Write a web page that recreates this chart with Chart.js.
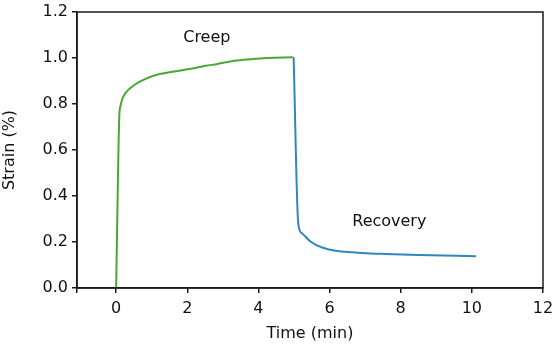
<!DOCTYPE html>
<html>
<head>
<meta charset="utf-8">
<script src="https://cdn.jsdelivr.net/npm/chart.js@4/dist/chart.umd.min.js"></script>
<style>
  html, body { margin: 0; padding: 0; background: #fff; }
  #wrap { width: 553px; height: 346px; }
</style>
</head>
<body>
<div id="wrap"><canvas id="chart"></canvas></div>
<script>
'use strict';

// creep phase (time in min, strain in %)
const creepTime = [0, 0.09, 0.12, 0.19, 0.42, 0.75, 1.12, 1.59, 2.06, 2.52, 2.85, 3.32, 3.79, 4.25, 4.97]
const creepStrain = [0, 0.75, 0.79, 0.829, 0.872, 0.904, 0.926, 0.94, 0.952, 0.966, 0.974, 0.988, 0.995, 1.0, 1.003]

// recovery phase
const recTime = [4.99, 5.12, 5.23, 5.47, 5.79, 6.17, 6.64, 7.15, 7.57, 8.5, 10.12]
const recStrain = [1.003, 0.28, 0.237, 0.201, 0.176, 0.162, 0.155, 0.15, 0.148, 0.144, 0.138]

const xMin = -1.1
const xTicks = [0, 2, 4, 6, 8, 10, 12]
const notes = [
    { text: 'Creep', x: 2.55, y: 1.088 },
    { text: 'Recovery', x: 7.68, y: 0.286 }
]

const fontName = "'DejaVu Sans', sans-serif"

const toPoints = (xs, ys) => xs.map((x, i) => ({ x: x, y: ys[i] }))

const framePlugin = {
    id: 'frame',
    afterDraw(chart) {
        const { ctx, chartArea, scales } = chart
        ctx.save()
        ctx.strokeStyle = '#1a1a1a'
        ctx.lineWidth = 1.5
        ctx.strokeRect(chartArea.left, chartArea.top, chartArea.right - chartArea.left, chartArea.bottom - chartArea.top)
        ctx.fillStyle = '#111'
        ctx.font = '16px ' + fontName
        ctx.textAlign = 'center'
        ctx.textBaseline = 'middle'
        notes.forEach(n => {
            ctx.fillText(n.text, scales.x.getPixelForValue(n.x), scales.y.getPixelForValue(n.y))
        })
        ctx.restore()
    }
}

const ctx = document.getElementById('chart').getContext('2d')
const chart = new Chart(ctx, {
    type: 'line',
    data: {
        datasets: [{
            label: 'Creep',
            data: toPoints(creepTime, creepStrain),
            borderColor: '#4aa832',
            borderWidth: 2,
            pointRadius: 0,
            cubicInterpolationMode: 'monotone',
            fill: false
        },
        {
            label: 'Recovery',
            data: toPoints(recTime, recStrain),
            borderColor: '#2f86c0',
            borderWidth: 2,
            pointRadius: 0,
            cubicInterpolationMode: 'monotone',
            fill: false
        }]
    },
    options: {
        responsive: true,
        maintainAspectRatio: false,
        animation: false,
        layout: { padding: { left: 0, right: 10, top: 12, bottom: 3 } },
        plugins: {
            legend: { display: false },
            tooltip: { enabled: false }
        },
        scales: {
            x: {
                type: 'linear',
                min: xMin,
                max: 12,
                afterBuildTicks: (axis) => {
                    axis.ticks = [xMin].concat(xTicks).map(v => ({ value: v }))
                },
                ticks: {
                    color: '#111',
                    font: { family: fontName, size: 16 },
                    padding: 6,
                    maxRotation: 0,
                    callback: (v) => v < 0 ? '' : String(v)
                },
                grid: { drawOnChartArea: false, drawTicks: true, tickLength: 5, color: '#1a1a1a', lineWidth: 1.5 },
                border: { color: '#1a1a1a', width: 1.5 },
                title: {
                    display: true,
                    text: 'Time (min)',
                    color: '#111',
                    font: { family: fontName, size: 16 },
                    padding: { top: 2, bottom: 0 }
                },
                afterFit: (axis) => {
                    axis.height = 55
                    axis.paddingLeft = 0
                    axis.paddingRight = 0
                }
            },
            y: {
                min: 0,
                max: 1.2,
                ticks: {
                    stepSize: 0.2,
                    color: '#111',
                    font: { family: fontName, size: 16 },
                    padding: 4,
                    callback: (v) => Number(v).toFixed(1)
                },
                grid: { drawOnChartArea: false, drawTicks: true, tickLength: 5, color: '#1a1a1a', lineWidth: 1.5 },
                border: { color: '#1a1a1a', width: 1.5 },
                title: {
                    display: true,
                    text: 'Strain (%)',
                    color: '#111',
                    font: { family: fontName, size: 16 },
                    padding: { top: 0, bottom: 2 }
                },
                afterFit: (axis) => {
                    axis.width = 77
                    axis.paddingTop = 0
                    axis.paddingBottom = 0
                }
            }
        }
    },
    plugins: [framePlugin]
})
</script>
</body>
</html>
